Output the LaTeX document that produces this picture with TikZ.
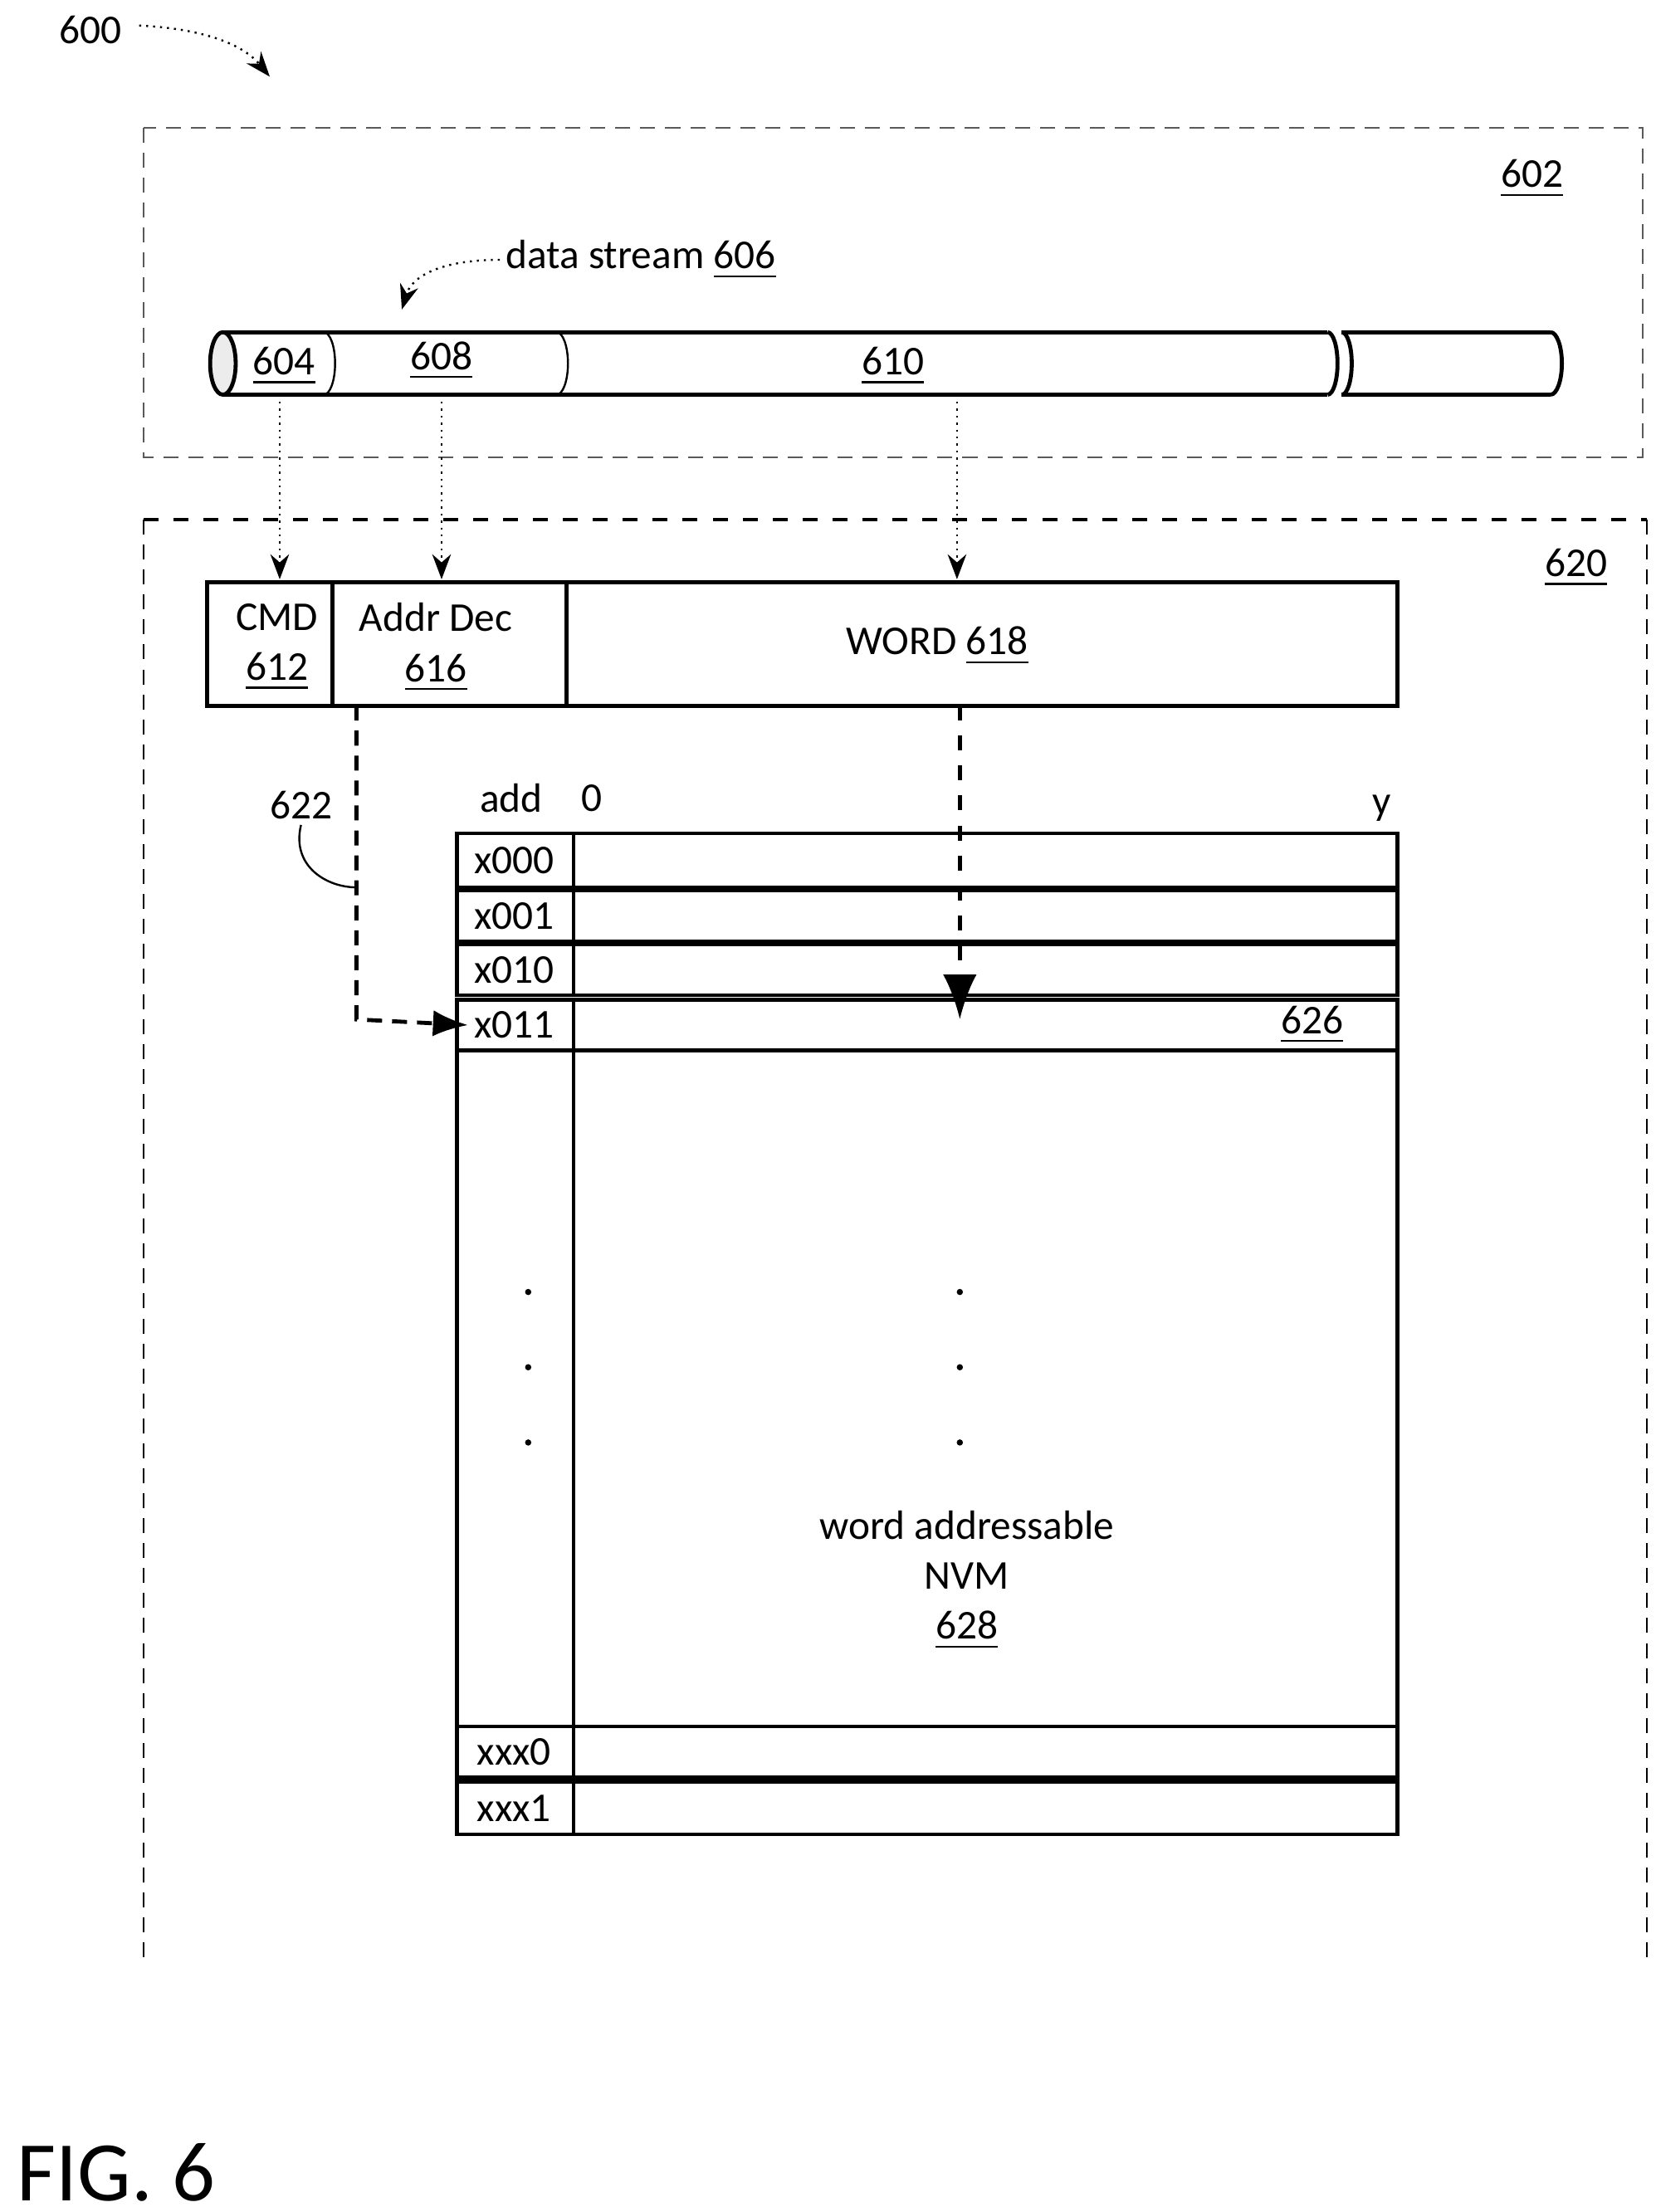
\documentclass[tikz,border=0pt]{standalone}
\usepackage{fontspec}
\setmainfont{Carlito}
\usetikzlibrary{arrows.meta}

\begin{document}
\begin{tikzpicture}[x=0.01cm,y=-0.01cm, font=\fontsize{8.2}{10}\selectfont,
	cell/.style={draw, thick},
	feed/.style={densely dotted, -{Stealth[length=5pt]}},
	lbl/.style={inner sep=1pt}]
\useasboundingbox (0,0) rectangle (1166,1558);

% outer boxes
\draw[densely dashed, gray!70!black] (101,90) rectangle (1157,322);
\node[lbl] (n602) at (1079,126) {\underline{602}};
\draw[dashed, thick] (101,366) -- (1160,366);
\draw[densely dashed] (101,366) -- (101,1382);
\draw[densely dashed] (1160,366) -- (1160,1382);
\node[lbl] (n620) at (1110,400) {\underline{620}};

% label 600
\node[lbl] (n600) at (64,21) {600};
\coordinate (t600) at (190,54);
\draw[feed] (98,18) .. controls (140,20) and (170,30) .. (t600);

% data stream
\draw[thick] (157,234) -- (935,234) (157,278) -- (935,278);
\draw[thick] (945,234) -- (1092,234) (945,278) -- (1092,278);
\draw[thick, fill=gray!15] (157,256) ellipse (9 and 22);
\draw (228,234) arc (-90:90:8 and 22);
\draw (392,234) arc (-90:90:8 and 22);
\draw[thick] (935,234) arc (-90:90:7 and 22);
\draw[thick] (945,234) arc (-90:90:7 and 22);
\draw[thick] (1092,234) arc (-90:90:8 and 22);
\node[lbl] (s604) at (200,258) {\underline{604}};
\node[lbl] (s608) at (311,254) {\underline{608}};
\node[lbl] (s610) at (629,258) {\underline{610}};
\node[lbl, anchor=west] (ds) at (352,183) {data stream \underline{606}};
\coordinate (tds) at (283,218);
\draw[feed] (ds.west) .. controls (310,183) and (290,195) .. (tds);

% register
\draw[cell] (146,410) rectangle (984,497);
\draw[cell] (234,410) -- (234,497) (399,410) -- (399,497);
\node[lbl, align=center] (cmd) at (195,456) {CMD\\\underline{612}};
\node[lbl, align=center] (addr) at (307,456) {Addr Dec\\\underline{616}};
\node[lbl] (word) at (660,455) {WORD \underline{618}};
\coordinate (p604) at (197,278);
\coordinate (p608) at (311,278);
\coordinate (p610) at (674,278);
\draw[feed] (p604) -- (197,408);
\draw[feed] (p608) -- (311,408);
\draw[feed] (p610) -- (674,408);

% memory table
\node[lbl] (hadd) at (360,562) {add};
\node[lbl] (hzero) at (417,562) {0};
\node[lbl] (hy) at (973,569) {y};
\foreach \t/\b/\n in {587/625/x000, 627/663/x001, 665/701/x010, 704/740/x011, 1216/1252/xxx0, 1255/1292/xxx1}{
	\draw[cell] (322,\t) rectangle (984,\b);
	\draw[cell] (404,\t) -- (404,\b);
	\node[lbl] (r\n) at (362,{(\t+\b)/2}) {\n};
}
\draw[cell] (322,740) rectangle (984,1216);
\draw[cell] (404,740) -- (404,1216);
\node[lbl] (n626) at (924,722) {\underline{626}};
\foreach \y in {910,963,1016}{
	\fill (372,\y) circle (2.2);
	\fill (676,\y) circle (2.2);
}
\node[lbl, align=center] (nvm) at (681,1113) {word addressable\\NVM\\\underline{628}};

% word / address paths
\coordinate (wsrc) at (676,497);
\draw[dashed, thick, -{Latex[length=9pt]}] (wsrc) -- (676,718);
\coordinate (asrc) at (251,497);
\draw[densely dashed, thick, -{Latex[length=7pt]}] (asrc) -- (251,718) -- (rx011.west);
\node[lbl] (n622) at (212,567) {622};
\draw (n622.south) .. controls (205,610) and (230,625) .. (251,625);

\node[lbl, anchor=west, font=\fontsize{17}{20}\selectfont] (fig) at (8,1530) {FIG. 6};
\end{tikzpicture}
\end{document}
